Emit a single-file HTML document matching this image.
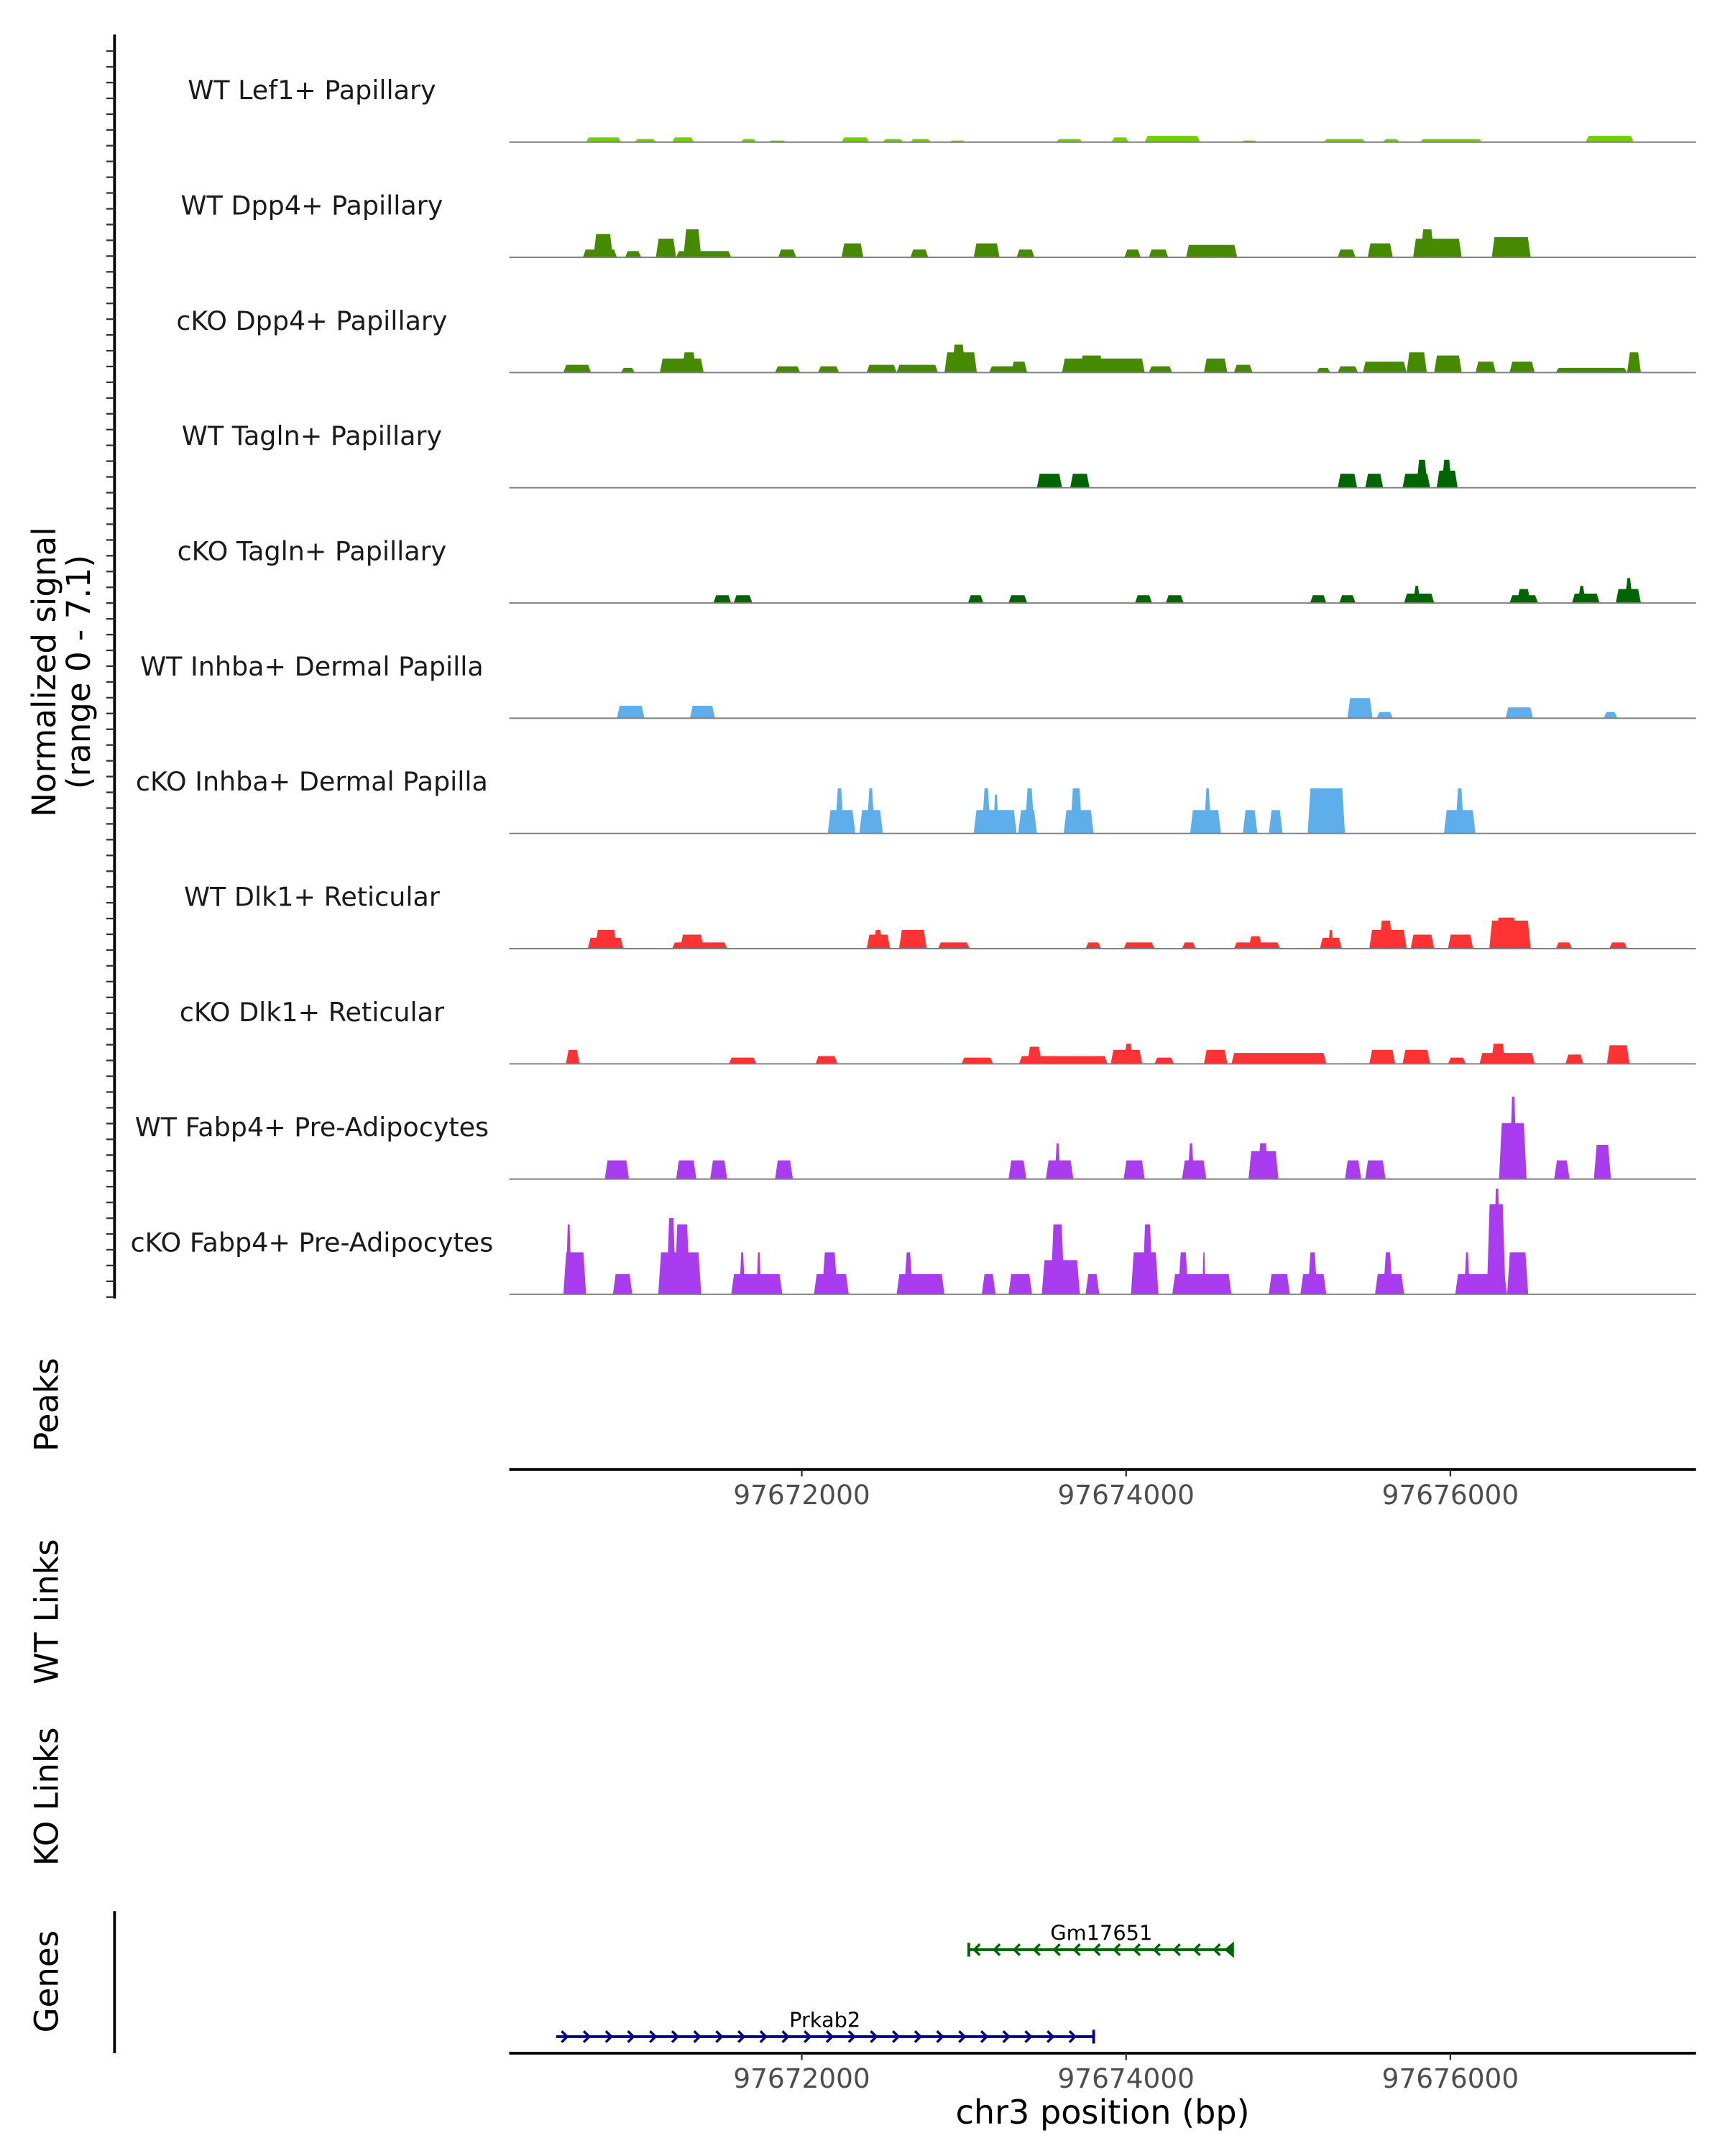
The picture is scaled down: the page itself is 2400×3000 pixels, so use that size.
<!DOCTYPE html>
<html><head><meta charset="utf-8"><style>
html,body{margin:0;padding:0;background:#fff}
svg{display:block;font-family:"DejaVu Sans","Liberation Sans",sans-serif}
</style></head><body>
<svg id="chart" width="2400" height="3000" viewBox="0 0 1250 1562.5" xmlns="http://www.w3.org/2000/svg">
<rect width="1250" height="1562.5" fill="#fff"/>
<g id="g"></g>
</svg>
<script>
// genomic offsets are bp relative to chr3:97670000
const trackNames = ["WT Lef1+ Papillary","WT Dpp4+ Papillary","cKO Dpp4+ Papillary","WT Tagln+ Papillary","cKO Tagln+ Papillary","WT Inhba+ Dermal Papilla","cKO Inhba+ Dermal Papilla","WT Dlk1+ Reticular","cKO Dlk1+ Reticular","WT Fabp4+ Pre-Adipocytes","cKO Fabp4+ Pre-Adipocytes"];
const trackColors = ["#72CF00","#468A00","#468A00","#006400","#006400","#5EAEEB","#5EAEEB","#FF3333","#FF3333","#A93CEE","#A93CEE"];
const tLef1WT = [[670,885,0.3],[970,1100,0.2],[1200,1335,0.3],[1625,1720,0.2],[1795,1905,0.1],[2245,2415,0.3],[2500,2625,0.2],[2670,2795,0.2],[2910,3010,0.1],[3570,3730,0.2],[3910,4015,0.3],[4115,4455,0.4],[4710,4810,0.1],[5220,5475,0.2],[5585,5685,0.2],[5815,6195,0.2],[6835,7130,0.4]];
const tDpp4WT = [[650,860,0.5],[715,835,1.5],[910,1010,0.4],[1100,1225,1.2],[1225,1565,0.4],[1270,1380,1.8],[1855,1965,0.5],[2245,2380,0.9],[2670,2780,0.5],[3060,3220,0.9],[3325,3435,0.5],[3990,4090,0.5],[4140,4260,0.5],[4370,4685,0.8],[5305,5415,0.5],[5490,5645,0.9],[5770,6070,1.2],[5815,5900,1.8],[6255,6495,1.3]];
const tDpp4KO = [[530,700,0.5],[885,970,0.3],[1125,1395,0.9],[1260,1350,1.3],[1835,1990,0.4],[2100,2230,0.4],[2400,2585,0.5],[2585,2840,0.5],[2880,3080,1.3],[2925,3010,1.8],[3155,3390,0.4],[3290,3390,0.7],[3605,4115,0.9],[3715,3860,1.1],[4140,4285,0.4],[4480,4625,0.9],[4665,4780,0.5],[5175,5260,0.3],[5305,5430,0.4],[5460,5730,0.7],[5730,5855,1.3],[5900,6070,1.1],[6155,6280,0.7],[6365,6520,0.7],[6650,7090,0.3],[7090,7175,1.3]];
const tTaglnWT = [[3450,3605,0.9],[3655,3775,0.9],[5305,5425,0.9],[5475,5585,0.9],[5705,5875,0.9],[5790,5860,1.8],[5915,6045,1.1],[5945,6010,1.8]];
const tTaglnKO = [[1455,1565,0.5],[1580,1695,0.5],[3025,3120,0.5],[3275,3390,0.5],[4055,4160,0.5],[4245,4355,0.5],[5135,5235,0.5],[5315,5415,0.5],[5715,5900,0.6],[5770,5815,1.1],[6365,6540,0.5],[6410,6495,0.9],[6750,6920,0.6],[6785,6835,1.1],[7020,7175,0.9],[7075,7125,1.6]];
const tInhbaWT = [[860,1030,0.8],[1310,1465,0.8],[5365,5520,1.3],[5545,5645,0.4],[6340,6510,0.7],[6945,7030,0.4]];
const tInhbaKO = [[2160,2330,1.5],[2205,2260,2.9],[2355,2500,1.5],[2400,2450,2.9],[3060,3325,1.5],[3110,3165,2.9],[3180,3215,2.5],[3335,3450,1.5],[3375,3435,2.9],[3615,3800,1.5],[3655,3730,2.9],[4395,4585,1.5],[4480,4525,2.9],[4720,4810,1.5],[4880,4965,1.5],[5120,5350,2.9],[5960,6155,1.5],[6030,6085,2.9]];
const tDlk1WT = [[680,900,0.7],[725,860,1.2],[1200,1540,0.4],[1250,1395,0.9],[2400,2545,0.9],[2440,2500,1.2],[2600,2770,1.2],[2840,3035,0.4],[3750,3845,0.4],[3985,4175,0.4],[4345,4430,0.4],[4665,4950,0.4],[4755,4840,0.8],[5195,5330,0.7],[5245,5280,1.2],[5500,5730,1.2],[5560,5645,1.8],[5755,5900,0.9],[5985,6140,0.9],[6240,6495,1.8],[6280,6410,2.0],[6650,6750,0.4],[6980,7090,0.4]];
const tDlk1KO = [[545,630,0.9],[1550,1720,0.4],[2085,2220,0.5],[2985,3180,0.4],[3340,3885,0.5],[3390,3480,1.1],[3905,4100,0.9],[3985,4045,1.3],[4175,4295,0.4],[4480,4625,0.9],[4650,5235,0.7],[5500,5660,0.9],[5705,5875,0.9],[5985,6095,0.4],[6180,6520,0.7],[6250,6340,1.3],[6710,6820,0.6],[6965,7105,1.2]];
const tFabp4WT = [[785,935,1.2],[1225,1350,1.2],[1435,1540,1.2],[1835,1945,1.2],[3275,3385,1.2],[3505,3675,1.2],[3560,3595,2.3],[3985,4115,1.2],[4345,4495,1.2],[4380,4420,2.3],[4755,4940,1.8],[4810,4880,2.3],[5350,5450,1.2],[5475,5600,1.2],[6300,6470,3.6],[6365,6410,5.3],[6640,6735,1.2],[6885,6990,2.2]];
const tFabp4KO = [[530,670,2.7],[545,580,4.5],[835,955,1.3],[1115,1380,2.7],[1165,1225,4.9],[1215,1310,4.5],[1565,1880,1.3],[1615,1650,2.7],[1720,1750,2.7],[2075,2290,1.3],[2125,2220,2.7],[2585,2880,1.3],[2630,2685,2.7],[3110,3195,1.3],[3275,3420,1.3],[3480,3715,2.2],[3535,3620,4.5],[3750,3835,1.3],[4030,4200,2.7],[4100,4165,4.5],[4285,4650,1.3],[4320,4385,2.7],[4470,4490,2.7],[4880,5010,1.3],[5075,5235,1.3],[5120,5180,2.7],[5535,5715,1.3],[5585,5645,2.7],[6030,6350,1.3],[6085,6120,2.7],[6225,6340,5.8],[6265,6310,6.8],[6350,6480,2.7]];
const trackData = [tLef1WT,tDpp4WT,tDpp4KO,tTaglnWT,tTaglnKO,tInhbaWT,tInhbaKO,tDlk1WT,tDlk1KO,tFabp4WT,tFabp4KO];
const xTicks = [2000,4000,6000];
const xTickLabels = ["97672000","97674000","97676000"];
const geneNames = ["Gm17651","Prkab2"];
const geneStart = [3030,485];
const geneEnd = [4665,3800];
const geneStrand = [-1,1];
const yMax = 7.1;

const NS="http://www.w3.org/2000/svg";
const G=document.getElementById('g');
function el(tag,attrs,parent){const e=document.createElementNS(NS,tag);for(const k in attrs)e.setAttribute(k,attrs[k]);(parent||G).appendChild(e);return e;}
const X0=369,X1=1229;
function xs(off){return 581+(off-2000)*0.1175;}
function ys(v){return v*80/yMax;}
const base0=103, step=83.5;

let ax=el('line',{x1:83,y1:25,x2:83,y2:941,stroke:'#000','stroke-width':2});


for(let i=0;i<80;i++){const y=37+i*(903/79);
 const t=el('line',{x1:77,y1:y,x2:83,y2:y,stroke:'#333','stroke-width':1.2});
 
 }
let yt=el('text',{x:0,y:0,'font-size':23.5,'text-anchor':'middle',transform:'translate(41,487) rotate(-90)',fill:'#000'});


const ts1=el('tspan',{x:0,dy:-1},yt);ts1.textContent='Normalized signal';
const ts2=el('tspan',{x:0,dy:25},yt);ts2.textContent='(range 0 - 7.1)';

trackData.forEach((blocks,i)=>{
 const b=base0+i*step;
 const g=el('g',{});
 
 
 const lab=el('text',{x:226,y:b-31,'font-size':19,'text-anchor':'middle',fill:'#1a1a1a'},g);
 lab.textContent=trackNames[i];
 
 
 blocks.forEach(bl=>{
  const xa=xs(bl[0]),xb=xs(bl[1]),h=ys(bl[2]);
  const r=Math.min(2,(xb-xa)/3);
  const p=el('polygon',{points:`${xa},${b} ${xa+r},${b-h} ${xb-r},${b-h} ${xb},${b}`,fill:trackColors[i]},g);
  
  
 });
 const bl=el('line',{x1:X0,y1:b,x2:X1,y2:b,stroke:'#7f7f7f','stroke-width':1},g);
 
 
});

function xAxis(y,name){
 const l=el('line',{x1:X0,y1:y,x2:X1,y2:y,stroke:'#000','stroke-width':2});
 
 
 xTicks.forEach((t,k)=>{
  const x=xs(t);
  const tk=el('line',{x1:x,y1:y,x2:x,y2:y+5,stroke:'#333','stroke-width':1.2});
  
  
  const tl=el('text',{x:x,y:y+25,'font-size':19.5,'text-anchor':'middle',fill:'#4d4d4d'});
  tl.textContent=xTickLabels[k];
  
  
 });
}
xAxis(1065,'peaks-x-axis');
xAxis(1488,'genes-x-axis');

function vlabel(txt,y,name){const t=el('text',{x:0,y:0,'font-size':23.5,'text-anchor':'middle',transform:`translate(42,${y}) rotate(-90)`,fill:'#000'});t.textContent=txt;
 
 }
vlabel('Peaks',1018,'peaks-label');
vlabel('WT Links',1168,'wt-links-label');
vlabel('KO Links',1302,'ko-links-label');
vlabel('Genes',1436,'genes-label');
const gl=el('line',{x1:83,y1:1385,x2:83,y2:1488,stroke:'#000','stroke-width':2});



const geneY=[1413,1476], geneCol=['#006400','#00008B'];
geneNames.forEach((n,i)=>{
 const y=geneY[i],c=geneCol[i],xa=xs(geneStart[i]),xb=xs(geneEnd[i]);
 const g=el('g',{});
 
 
 el('line',{x1:xa,y1:y,x2:xb,y2:y,stroke:c,'stroke-width':2},g);
 const sp=geneStrand[i]<0?14.5:16;
 for(let x=xa+4;x<xb-4;x+=sp){
  const d=geneStrand[i]<0?`M${x+4},${y-4} L${x},${y} L${x+4},${y+4}`:`M${x},${y-4} L${x+4},${y} L${x},${y+4}`;
  el('path',{d:d,stroke:c,'stroke-width':1.8,fill:'none'},g);
 }
 if(geneStrand[i]<0){el('line',{x1:xa,y1:y-5,x2:xa,y2:y+5,stroke:c,'stroke-width':2},g);
  el('polygon',{points:`${xb-7},${y} ${xb},${y-6} ${xb},${y+6}`,fill:c},g);}
 else{el('line',{x1:xb,y1:y-5,x2:xb,y2:y+5,stroke:c,'stroke-width':2},g);}
 const t=el('text',{x:(xa+xb)/2,y:y-7,'font-size':15,'text-anchor':'middle',fill:'#000'},g);
 t.textContent=n;
});
const xt=el('text',{x:799,y:1539,'font-size':24,'text-anchor':'middle',fill:'#000'});
xt.textContent='chr3 position (bp)';


</script>
</body></html>
